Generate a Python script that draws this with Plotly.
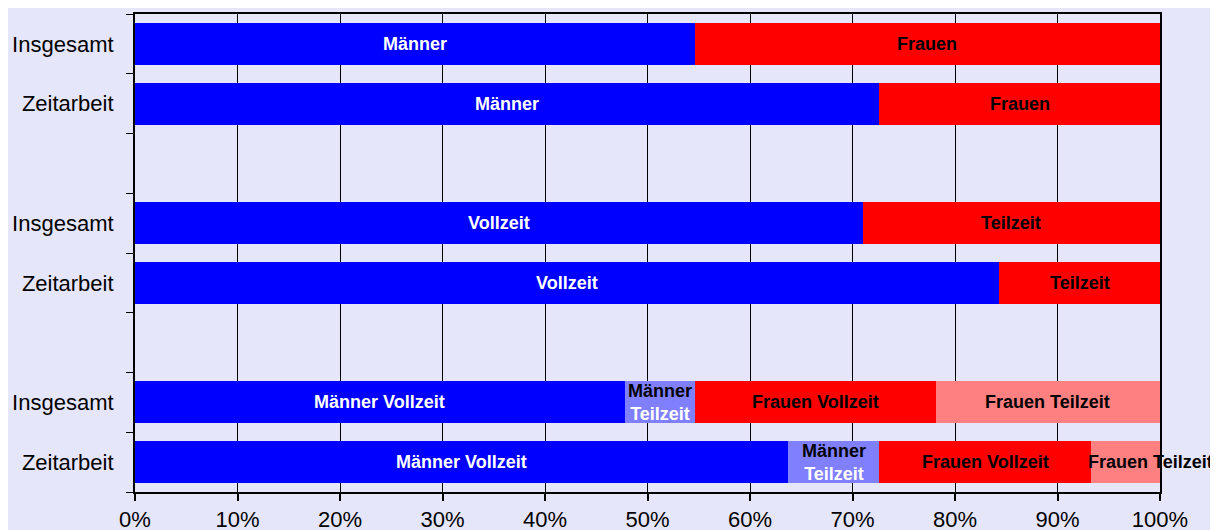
import plotly.graph_objects as go

# ---- data ----
row_labels = ["Insgesamt", "Zeitarbeit", "Insgesamt", "Zeitarbeit", "Insgesamt", "Zeitarbeit"]
row_slots = [0, 1, 3, 4, 6, 7]

maenner = [54.6, 72.6]
frauen = [45.4, 27.4]
vollzeit = [71.0, 84.3]
teilzeit = [29.0, 15.7]
maenner_vollzeit = [47.8, 63.7]
maenner_teilzeit = [6.8, 8.9]
frauen_vollzeit = [23.5, 20.7]
frauen_teilzeit = [21.9, 6.7]

x_ticks = [0, 10, 20, 30, 40, 50, 60, 70, 80, 90, 100]

BLUE = "#0000FF"
RED = "#FF0000"
LBLUE = "#8080FF"
LRED = "#FF8080"
BG = "#E6E6FA"
LABEL_FONT = "Liberation Sans, Arial"

groups = [
    ([0, 1], [("Männer", maenner, BLUE, "white"), ("Frauen", frauen, RED, "black")]),
    ([3, 4], [("Vollzeit", vollzeit, BLUE, "white"), ("Teilzeit", teilzeit, RED, "black")]),
    ([6, 7], [("Männer Vollzeit", maenner_vollzeit, BLUE, "white"),
              ("<span style='color:black'>Männer</span><br>Teilzeit", maenner_teilzeit, LBLUE, "white"),
              ("Frauen Vollzeit", frauen_vollzeit, RED, "black"),
              ("Frauen Teilzeit", frauen_teilzeit, LRED, "black")]),
]

fig = go.Figure()
annotations = []
for ys, segs in groups:
    bases = [0.0 for _ in ys]
    for name, vals, color, tcolor in segs:
        fig.add_trace(go.Bar(
            y=ys, x=vals, orientation="h", marker=dict(color=color, line=dict(width=0)),
            width=0.7, name=name, showlegend=False, hoverinfo="skip",
        ))
        for i, (yy, v) in enumerate(zip(ys, vals)):
            base = bases[i]
            if v < 8 and "Frauen" in name:
                annotations.append(dict(
                    x=base, y=yy, xref="x", yref="y", text=name, showarrow=False,
                    xanchor="left", xshift=-5,
                    font=dict(family=LABEL_FONT, size=18, color=tcolor, weight="bold"),
                ))
            else:
                annotations.append(dict(
                    x=base + v / 2, y=yy, xref="x", yref="y", text=name, showarrow=False,
                    xanchor="center",
                    font=dict(family=LABEL_FONT, size=18, color=tcolor, weight="bold"),
                ))
            bases[i] = base + v

fig.update_layout(
    barmode="stack",
    width=1218, height=530,
    margin=dict(l=127, r=66, t=6, b=46, autoexpand=False),
    paper_bgcolor=BG, plot_bgcolor=BG,
    annotations=annotations,
    font=dict(family="Liberation Sans, Arial", size=22, color="black"),
)
fig.update_xaxes(
    range=[0, 100], tickmode="array", tickvals=x_ticks,
    ticktext=[f"{t}%" for t in x_ticks],
    showgrid=True, gridcolor="black", gridwidth=1,
    showline=True, linecolor="black", linewidth=2, mirror=True,
    ticks="outside", ticklen=7, tickcolor="black", tickwidth=2,
    zeroline=False, fixedrange=True, automargin=False,
)
fig.update_yaxes(
    range=[7.5, -0.5], tickmode="array", tickvals=row_slots, ticktext=row_labels,
    showgrid=False, zeroline=False,
    showline=True, linecolor="black", linewidth=2, mirror=True,
    ticks="outside", ticklen=15, tickcolor="rgba(0,0,0,0)",
    minor=dict(tickmode="array", tickvals=[i - 0.5 for i in range(9)],
               ticks="outside", ticklen=7, tickcolor="black", tickwidth=1, showgrid=False),
    fixedrange=True, automargin=False,
)

fig.write_html("out.html")
